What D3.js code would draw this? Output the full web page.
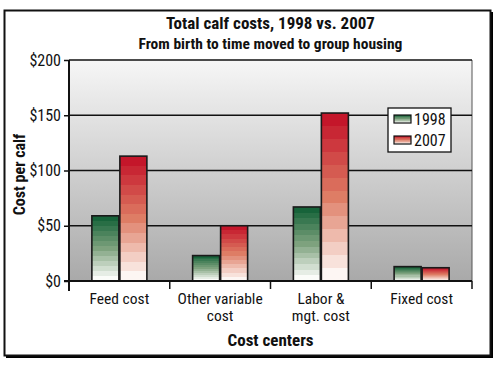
<!DOCTYPE html>
<html><head><meta charset="utf-8">
<script src="https://cdn.jsdelivr.net/npm/d3@7"></script>
<style>
html,body{margin:0;padding:0;background:#fff;}
svg{display:block;}
text{font-family:"Liberation Sans Narrow","Arial Narrow","Roboto Condensed","Liberation Sans",Arial,sans-serif;fill:#111;}
</style></head>
<body>
<svg id="chart" width="500" height="368"></svg>
<script>
const categories = [["Feed cost"], ["Other variable", "cost"], ["Labor &", "mgt. cost"], ["Fixed cost"]];
const seriesNames = ["1998", "2007"];
const values1998 = [59, 23, 67, 13];
const values2007 = [113, 50, 152, 12];
const yTicks = [0, 50, 100, 150, 200];
const tickLabels = ["$0", "$50", "$100", "$150", "$200"];
const title = "Total calf costs, 1998 vs. 2007";
const subtitle = "From birth to time moved to group housing";
const yTitle = "Cost per calf";
const xTitle = "Cost centers";
const seriesColors = [["#17633a", "#7ea27e", "#fbfcf9"], ["#c4162a", "#de7d65", "#fdf6f3"]];

const svg = d3.select("#chart");
const W = 500, H = 368;
const m = {left: 69, right: 28, top: 60, bottom: 87};
const pw = W - m.left - m.right, ph = H - m.top - m.bottom;

const defs = svg.append("defs");
const bg = defs.append("linearGradient").attr("id", "bg").attr("x1", 0).attr("y1", 0).attr("x2", 0).attr("y2", 1);
bg.append("stop").attr("offset", 0).attr("stop-color", "#f6f6f6");
bg.append("stop").attr("offset", 1).attr("stop-color", "#a9a9a9");

// stepped gradients
const steps = 13;
seriesColors.forEach((c, i) => {
  const g = defs.append("linearGradient").attr("id", "grad" + i).attr("x1", 0).attr("y1", 0).attr("x2", 0).attr("y2", 1);
  const interp = d3.piecewise(d3.interpolateRgb, c);
  for (let s = 0; s < steps; s++) {
    const col = interp(s / (steps - 1));
    g.append("stop").attr("offset", s / steps).attr("stop-color", col);
    g.append("stop").attr("offset", (s + 1) / steps).attr("stop-color", col);
  }
});

// outer frame
svg.append("rect").attr("x", 6).attr("y", 12).attr("width", 487).attr("height", 346).attr("fill", "#000");
svg.append("rect").attr("x", 4.5).attr("y", 10.5).attr("width", 486).attr("height", 345)
  .attr("fill", "#fff").attr("stroke", "#111").attr("stroke-width", 2);

const g = svg.append("g").attr("transform", `translate(${m.left},${m.top})`);
const x0 = d3.scaleBand().domain(d3.range(categories.length)).range([0, pw]).paddingInner(0).paddingOuter(0);
const y = d3.scaleLinear().domain([0, 200]).range([ph, 0]);

g.append("rect").attr("width", pw).attr("height", ph).attr("fill", "url(#bg)");
g.append("line").attr("x1", pw).attr("x2", pw).attr("y1", 0).attr("y2", ph).attr("stroke", "#555").attr("stroke-width", 1);

// grid
g.selectAll(".grid").data(yTicks.slice(1)).join("line")
  .attr("x1", 0).attr("x2", pw).attr("y1", d => y(d)).attr("y2", d => y(d))
  .attr("stroke", "#111").attr("stroke-width", 1.3);

// bars
const barW = 28;
const data = categories.map((c, i) => [values1998[i], values2007[i]]);
const x1 = d3.scaleBand().domain([0, 1]).range([0, barW * 2]);
const groups = g.selectAll(".grp").data(data).join("g")
  .attr("transform", (d, i) => `translate(${x0(i) + x0.bandwidth() / 2 - barW},0)`);
groups.selectAll("rect").data(d => d).join("rect")
  .attr("x", (d, j) => x1(j) + 0.5).attr("y", d => y(d))
  .attr("width", x1.bandwidth() - 1).attr("height", d => y(0) - y(d))
  .attr("fill", (d, j) => `url(#grad${j})`).attr("stroke", "#1a1a1a").attr("stroke-width", 1.6);

// y axis
const yAxis = g.append("g").call(d3.axisLeft(y).tickValues(yTicks).tickFormat((d, i) => tickLabels[i]).tickSize(5).tickPadding(3));
yAxis.select(".domain").remove();
yAxis.selectAll(".tick line").attr("stroke", "#111").attr("stroke-width", 1.5);
yAxis.selectAll("text").attr("font-size", 16).attr("fill", "#111").style("font-family", null);
g.append("line").attr("x1", 0).attr("x2", 0).attr("y1", 0).attr("y2", ph + 10).attr("stroke", "#111").attr("stroke-width", 2);

// x axis
g.append("line").attr("x1", -5).attr("x2", pw).attr("y1", ph).attr("y2", ph).attr("stroke", "#111").attr("stroke-width", 2);
g.selectAll(".xt").data(d3.range(1, categories.length + 1)).join("line")
  .attr("x1", i => x0.step() * i).attr("x2", i => x0.step() * i).attr("y1", ph).attr("y2", ph + 8)
  .attr("stroke", "#111").attr("stroke-width", 1.5);
const xl = g.selectAll(".xl").data(categories).join("text")
  .attr("text-anchor", "middle").attr("font-size", 15.5)
  .attr("transform", (d, i) => `translate(${x0(i) + x0.bandwidth() / 2},${ph + 23})`);
xl.selectAll("tspan").data(d => d).join("tspan").attr("x", 0).attr("dy", (d, i) => i ? 17 : 0).text(d => d);

// titles
svg.append("text").attr("x", m.left + pw / 2).attr("y", 29).attr("text-anchor", "middle")
  .attr("font-size", 17).attr("font-weight", "bold").text(title);
svg.append("text").attr("x", m.left + pw / 2).attr("y", 48.5).attr("text-anchor", "middle")
  .attr("font-size", 15.5).attr("font-weight", "bold").text(subtitle);
svg.append("text").attr("x", m.left + pw / 2).attr("y", 346).attr("text-anchor", "middle")
  .attr("font-size", 17).attr("font-weight", "bold").text(xTitle);
svg.append("text").attr("transform", `translate(25,${m.top + ph / 2 + 4}) rotate(-90)`).attr("text-anchor", "middle")
  .attr("font-size", 16).attr("font-weight", "bold").text(yTitle);

// legend
const lg = svg.append("g").attr("transform", "translate(388,108)");
lg.append("rect").attr("width", 63).attr("height", 44).attr("fill", "#fff").attr("stroke", "#111").attr("stroke-width", 1.3);
seriesNames.forEach((s, i) => {
  lg.append("rect").attr("x", 6).attr("y", 7 + i * 21).attr("width", 17).attr("height", 8)
    .attr("fill", `url(#grad${i})`).attr("stroke", "#111").attr("stroke-width", 1.2);
  lg.append("text").attr("x", 26).attr("y", 16.5 + i * 21).attr("font-size", 16).text(s);
});
</script>
</body></html>
